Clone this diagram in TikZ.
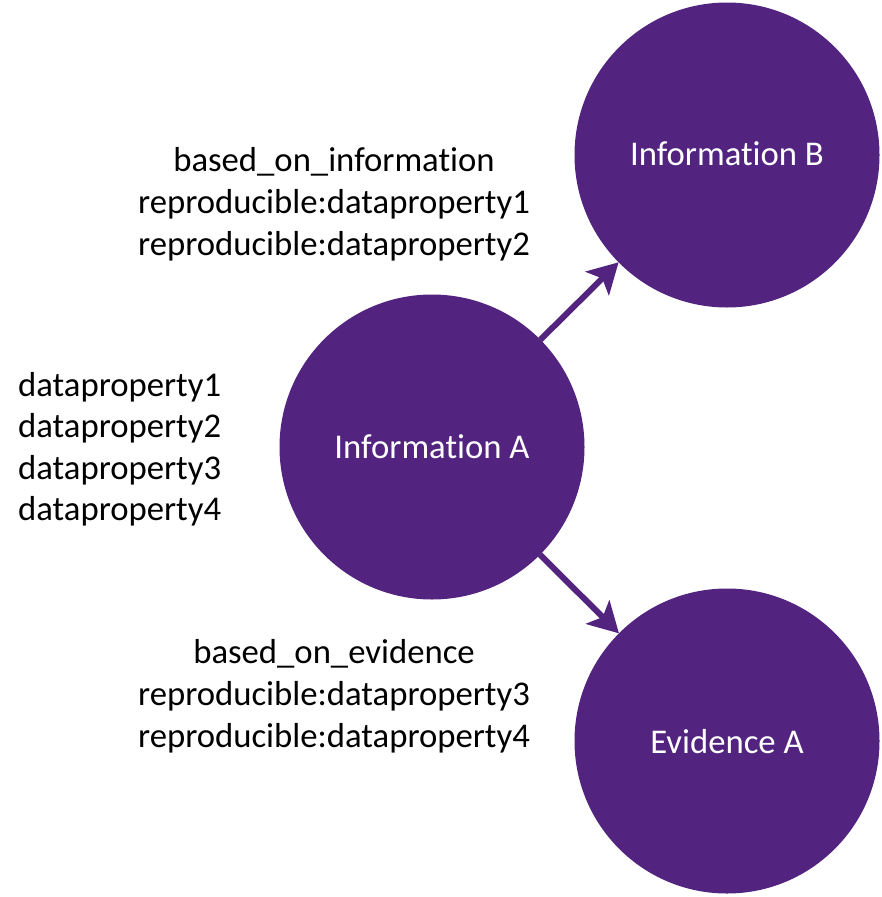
\documentclass[tikz,border=0pt]{standalone}
\usepackage{fontspec}
\setmainfont{Carlito}[Ligatures={NoCommon,NoRare,NoContextual}]
\usetikzlibrary{arrows.meta}
\definecolor{ipurple}{HTML}{52247F}
\tikzset{
  ball/.style={circle, fill=ipurple, draw=none, minimum size=305pt, inner sep=0pt, outer sep=0pt, text=white},
  lbl/.style={anchor=base, inner sep=0pt, font=\fontsize{34.7}{42}\selectfont, text=black},
  conn/.style={draw=ipurple, line width=6pt, -{Stealth[length=30pt, width=33pt, inset=7pt]}}
}
\begin{document}
\begin{tikzpicture}[x=1pt, y=-1pt]
\useasboundingbox (0,0) rectangle (881,897);
\node[ball] (B) at (727,155) {};
\node[ball] (A) at (432,447) {};
\node[ball] (E) at (727,741) {};
\node[lbl, text=white] (Bt) at (727,165) {Information B};
\node[lbl, text=white] (At) at (432,458) {Information A};
\node[lbl, text=white] (Et) at (727,753) {Evidence A};
\draw[conn] (A) -- (B);
\draw[conn] (A) -- (E);
\node[lbl] (t1) at (334,171.5) {based\_on\_information};
\node[lbl] (t2) at (334,213.5) {reproducible:dataproperty1};
\node[lbl] (t3) at (334,255.5) {reproducible:dataproperty2};
\node[lbl, anchor=base west] (l1) at (18,396) {dataproperty1};
\node[lbl, anchor=base west] (l2) at (18,437.5) {dataproperty2};
\node[lbl, anchor=base west] (l3) at (18,479) {dataproperty3};
\node[lbl, anchor=base west] (l4) at (18,520.5) {dataproperty4};
\node[lbl] (b1) at (334,663.5) {based\_on\_evidence};
\node[lbl] (b2) at (334,705.5) {reproducible:dataproperty3};
\node[lbl] (b3) at (334,747.5) {reproducible:dataproperty4};
\end{tikzpicture}
\end{document}
